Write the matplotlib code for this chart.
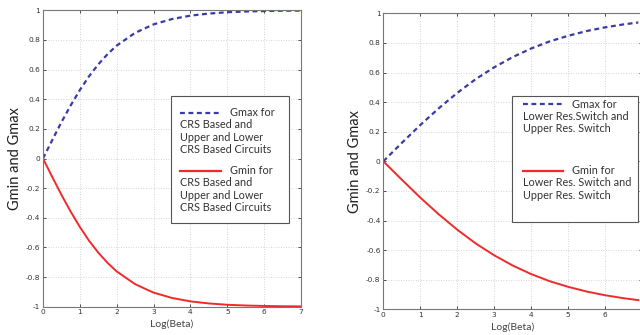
import matplotlib
matplotlib.use("Agg")
import matplotlib.pyplot as plt
from matplotlib.patches import Rectangle
from matplotlib.lines import Line2D

# values
log_beta_left = [0, 0.25, 0.5, 0.75, 1, 1.25, 1.5, 1.75, 2, 2.5, 3, 3.5, 4, 4.5, 5, 5.5, 6, 6.5, 7]
gmax_left = [0, 0.124, 0.245, 0.358, 0.462, 0.555, 0.635, 0.704, 0.762, 0.848, 0.905,
             0.941, 0.964, 0.978, 0.987, 0.992, 0.995, 0.997, 0.998]
gmin_left = [0, -0.124, -0.245, -0.358, -0.462, -0.555, -0.635, -0.704, -0.762, -0.848, -0.905,
             -0.941, -0.964, -0.978, -0.987, -0.992, -0.995, -0.997, -0.998]

log_beta_right = [0, 0.5, 1, 1.5, 2, 2.5, 3, 3.5, 4, 4.5, 5, 5.5, 6, 6.5, 6.9]
gmax_right = [0, 0.124, 0.245, 0.358, 0.462, 0.555, 0.635, 0.704, 0.762, 0.810, 0.848,
              0.880, 0.905, 0.925, 0.938]
gmin_right = [0, -0.124, -0.245, -0.358, -0.462, -0.555, -0.635, -0.704, -0.762, -0.810, -0.848,
              -0.880, -0.905, -0.925, -0.938]

x_ticks = [0, 1, 2, 3, 4, 5, 6, 7]
x_tick_labels_left = ["0", "1", "2", "3", "4", "5", "6", "7"]
x_tick_labels_right = ["0", "1", "2", "3", "4", "5", "6", ""]  # 7 falls outside the image
y_ticks = [-1, -0.8, -0.6, -0.4, -0.2, 0, 0.2, 0.4, 0.6, 0.8, 1]
y_tick_labels = ["-1", "-0.8", "-0.6", "-0.4", "-0.2", "0", "0.2", "0.4", "0.6", "0.8", "1"]

left_gmax_text = ["CRS Based and", "Upper and Lower", "CRS Based Circuits"]
left_gmin_text = ["CRS Based and", "Upper and Lower", "CRS Based Circuits"]
right_gmax_text = ["Lower Res.Switch and", "Upper Res. Switch"]
right_gmin_text = ["Lower Res. Switch and", "Upper Res. Switch"]

BLUE = "#3b3ba6"
RED = "#f02a2a"
W, H = 640, 335
TXT = "Lato"
FS = 7.8

fig = plt.figure(figsize=(6.4, 3.35), dpi=100)


def fx(px):
    return px / W


def fy(py):
    return 1 - py / H


def make_axes(x0, x1, y0, y1, xlabels):
    ax = fig.add_axes([fx(x0), fy(y1), fx(x1) - fx(x0), fy(y0) - fy(y1)])
    ax.set_xlim(0, 7)
    ax.set_ylim(-1, 1)
    ax.set_xticks(x_ticks)
    ax.set_xticklabels(xlabels)
    ax.set_yticks(y_ticks)
    ax.set_yticklabels(y_tick_labels)
    ax.grid(True, linestyle=(0, (1, 2)), color="#c8c8c8", linewidth=0.6)
    ax.tick_params(direction="in", length=2.5, width=0.6, labelsize=5.3,
                   colors="#333333", top=True, right=True, pad=2)
    for s in ax.spines.values():
        s.set_color("#777777")
        s.set_linewidth(0.8)
    ax.set_xlabel("Log(Beta)", fontname=TXT, fontsize=7.5, color="#444444", labelpad=3)
    ax.set_ylabel("Gmin and Gmax", fontname=TXT, fontsize=10.5, color="#222222", labelpad=3)
    return ax


def legend_box(left, top, right, bottom, entries):
    fig.patches.append(Rectangle((fx(left), fy(bottom)), fx(right) - fx(left),
                                 fy(top) - fy(bottom), transform=fig.transFigure,
                                 facecolor="white", edgecolor="#555555", linewidth=0.8))
    for (ly, hx0, hx1, color, ls, title, lines) in entries:
        fig.lines.append(Line2D([fx(hx0), fx(hx1)], [fy(ly), fy(ly)], transform=fig.transFigure,
                                color=color, linestyle=ls, linewidth=1.6))
        fig.text(fx(hx1 + 9), fy(ly), title, fontname=TXT, fontsize=FS,
                 color="#333333", va="center", ha="left")
        for i, t in enumerate(lines):
            fig.text(fx(hx0), fy(ly + 12.2 * (i + 1)), t, fontname=TXT, fontsize=FS,
                     color="#333333", va="center", ha="left")


dash = (0, (2.2, 1.6))

ax1 = make_axes(43, 301, 10.3, 306.7, x_tick_labels_left)
ax1.plot(log_beta_left, gmax_left, color=BLUE, linestyle=dash, linewidth=1.6)
ax1.plot(log_beta_left, gmin_left, color=RED, linewidth=1.4)

ax2 = make_axes(383.3, 642, 13.3, 309.3, x_tick_labels_right)
ax2.plot(log_beta_right, gmax_right, color=BLUE, linestyle=dash, linewidth=1.6)
ax2.plot(log_beta_right, gmin_right, color=RED, linewidth=1.4)

legend_box(170.7, 95.7, 289, 222.7, [
    (112.7, 180, 220.5, BLUE, dash, "Gmax for", left_gmax_text),
    (170.7, 180, 220.5, RED, "-", "Gmin for", left_gmin_text),
])
legend_box(511.7, 95.7, 638, 221.7, [
    (104, 522.7, 562.7, BLUE, dash, "Gmax for", right_gmax_text),
    (170.7, 522.7, 562.7, RED, "-", "Gmin for", right_gmin_text),
])

fig.savefig("out.png", dpi=100)
